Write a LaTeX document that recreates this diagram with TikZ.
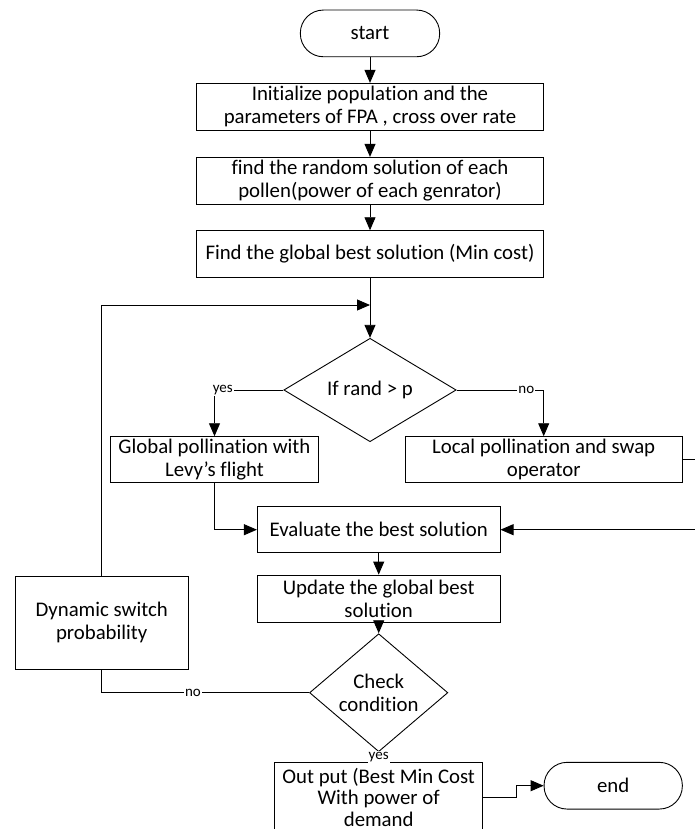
\documentclass[tikz,border=0pt]{standalone}
\usepackage{fontspec}
\setmainfont[Ligatures={TeX,NoCommon}]{Carlito}
\usetikzlibrary{shapes.geometric,arrows.meta}
\tikzset{
proc/.style={draw,line width=0.9pt,align=center,inner sep=0pt,font=\fontsize{20.8}{23.5}\selectfont},
term/.style={proc,rounded corners=23pt},
dec/.style={proc,diamond},
lbl/.style={fill=white,inner sep=1pt,font=\fontsize{15}{17}\selectfont},
conn/.style={line width=0.9pt},
arr/.style={-{Triangle[length=13pt,width=11pt]}}
}
\begin{document}
\begin{tikzpicture}[x=1pt,y=1pt]
\useasboundingbox (0,0) rectangle (694,-829);
\node[term,minimum width=139.3,minimum height=46.7] (start) at (370,-33.4) {start};
\node[proc,minimum width=346.6,minimum height=46.7] (init) at (370,-106.7) {Initialize population and the\\parameters of FPA , cross over rate};
\node[proc,minimum width=346.6,minimum height=46.7] (rand) at (370,-180.7) {find the random solution of each\\pollen(power of each genrator)};
\node[proc,minimum width=346.6,minimum height=46.6] (gbest) at (370,-254) {Find the global best solution (Min cost)};
\coordinate (merge) at (370,-305);
\node[dec,minimum width=172.4,minimum height=92] (ifrand) at (370,-390) {If rand > p};
\node[proc,minimum width=207.6,minimum height=46] (glob) at (214.5,-459.7) {Global pollination with\\Levy’s flight};
\node[proc,minimum width=277.3,minimum height=46] (loc) at (543.7,-459.7) {Local pollination and swap\\operator};
\node[proc,minimum width=242.7,minimum height=46] (eval) at (378.7,-529.7) {Evaluate the best solution};
\node[proc,minimum width=242.7,minimum height=47.3] (upd) at (378.7,-598.7) {Update the global best\\solution};
\node[dec,minimum width=138.3,minimum height=94] (check) at (378.7,-692.7) {Check\\condition};
\node[proc,minimum width=173.3,minimum height=93] (dyn) at (101.7,-622.5) {Dynamic switch\\probability};
\node[proc,minimum width=208,minimum height=70,font=\fontsize{20.8}{21.5}\selectfont] (out) at (378.7,-797.3) {Out put (Best Min Cost\\With power of\\demand};
\node[term,minimum width=138.3,minimum height=46.7] (fin) at (613.2,-785.7) {end};
\draw[conn,arr] (start) -- (init);
\draw[conn,arr] (init) -- (rand);
\draw[conn,arr] (rand) -- (gbest);
\draw[conn,arr] (gbest) -- (ifrand);
\draw[conn,arr] (dyn.north) |- (merge);
\draw[conn,arr] (ifrand.west) -| node[lbl,pos=0.44] {yes} (glob.north);
\draw[conn,arr] (ifrand.east) -| node[lbl,pos=0.4] {no} (loc.north);
\draw[conn,arr] (glob.south) |- (eval.west);
\draw[conn,arr] (loc.east) -- ++(20,0) |- (eval.east);
\draw[conn,arr] (eval) -- (upd);
\draw[conn,arr] (upd) -- (check);
\draw[conn] (check.west) -| node[lbl,pos=0.28] {no} (dyn.south);
\draw[conn] (check.south) -- node[lbl] {yes} (out.north);
\draw[conn,arr] (out.east) -- ++(33.7,0) |- (fin.west);
\end{tikzpicture}
\end{document}
